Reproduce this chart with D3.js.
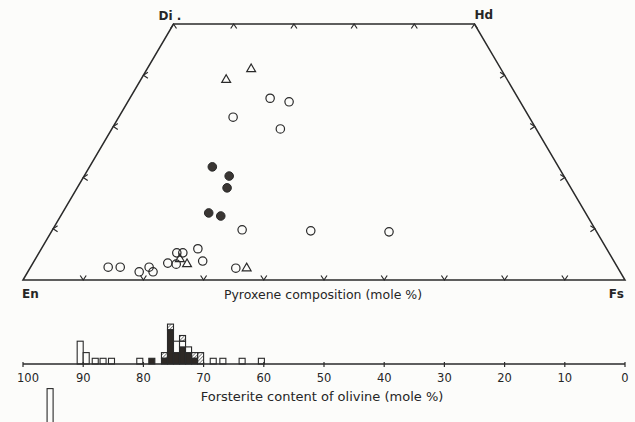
<!DOCTYPE html>
<html>
<head>
<meta charset="utf-8">
<script src="https://cdn.jsdelivr.net/npm/d3@7"></script>
<style>
    body { margin: 0; background: #fcfcfa; }
    svg { display: block; }
    text { font-family: "DejaVu Sans", sans-serif; fill: #262626; }
</style>
</head>
<body>
<svg id="chart"></svg>
<script>
// pyroxene points: [Wo, Fs] mole %
const openCircles = [
    [31.8, 19.0], [35.5, 23.3], [34.8, 26.8], [29.5, 28.0],
    [9.8, 31.5], [9.6, 43.0], [9.4, 56.1],
    [2.5, 12.9], [2.5, 14.9], [1.6, 18.5], [2.5, 19.7], [1.6, 20.8],
    [3.3, 22.4], [3.1, 23.9], [5.3, 22.9], [5.3, 23.9], [6.1, 26.0],
    [3.7, 28.0], [2.3, 34.2]
];
const filledCircles = [
    [22.1, 20.4], [20.3, 24.1], [18.0, 24.9], [13.1, 24.3], [12.5, 26.6]
];
const openTriangles = [
    [39.1, 14.2], [41.2, 17.3], [4.1, 24.0], [3.1, 25.7], [2.3, 36.0]
];

// olivine histogram (Fo of bar centre, counts per kind)
const foBins       = [90.5, 89.5, 88.0, 86.7, 85.3, 80.6, 78.6, 76.5, 75.5, 74.5, 73.5, 72.5, 71.5, 70.5, 68.4, 66.8, 63.6, 60.4];
const filledCounts = [0, 0, 0, 0, 0, 0, 1, 1, 6, 2, 3, 2, 1, 0, 0, 0, 0, 0];
const openCounts   = [4, 2, 1, 1, 1, 1, 0, 0, 0, 2, 1, 1, 0, 0, 1, 1, 1, 1];
const hatchCounts  = [0, 0, 0, 0, 0, 0, 0, 1, 1, 0, 1, 0, 1, 2, 0, 0, 0, 0];
// bar of the next panel, cut by the page edge
const nextPanelFo = [95.5];
const nextPanelCounts = [12];

const foTicks = [100, 90, 80, 70, 60, 50, 40, 30, 20, 10, 0];
const quadTicks = [10, 20, 30, 40];

const width = 635;
const height = 422;
const ink = '#2a2a2a';

var svg = d3.select('#chart').attr('width', width).attr('height', height);

var defs = svg.append('defs');
defs.append('pattern')
    .attr('id', 'hatch')
    .attr('patternUnits', 'userSpaceOnUse')
    .attr('width', 2.5).attr('height', 2.5)
    .attr('patternTransform', 'rotate(45)')
    .append('line')
    .attr('x1', 0).attr('y1', 0).attr('x2', 0).attr('y2', 2.5)
    .attr('stroke', ink).attr('stroke-width', 1);

// quadrilateral: x position from Fs + Wo/2, y from Wo
const qx = d3.scaleLinear().domain([0, 100]).range([23, 625]);
const qy = d3.scaleLinear().domain([0, 50]).range([280, 24]);
function px(wo, fs) { return qx(fs + wo / 2); }

var corners = [[0, 0], [50, 0], [50, 50], [0, 100]];
svg.append('path')
    .attr('d', d3.line()(corners.map(c => [px(c[0], c[1]), qy(c[0])])) + 'Z')
    .attr('fill', 'none')
    .attr('stroke', ink)
    .attr('stroke-width', 1.5);

// little chevrons along the edges, tip on the edge, arms inward
var chev = [];
[10, 20, 30, 40, 50, 60, 70, 80, 90].forEach(f => chev.push({ wo: 0, fs: f, nx: 0, ny: -1 }));
[0, 10, 20, 30, 40, 50].forEach(f => chev.push({ wo: 50, fs: f, nx: 0, ny: 1 }));
quadTicks.forEach(w => chev.push({ wo: w, fs: 0, nx: 1, ny: 0 }));
quadTicks.forEach(w => chev.push({ wo: w, fs: 100 - w, nx: -1, ny: 0 }));

svg.append('g').selectAll('path')
    .data(chev)
    .enter()
    .append('path')
    .attr('d', function (d) {
        var x = px(d.wo, d.fs), y = qy(d.wo);
        var tx = d.ny, ty = d.nx;
        var a = [x + d.nx * 4.5 + tx * 3, y + d.ny * 4.5 + ty * 3];
        var b = [x + d.nx * 4.5 - tx * 3, y + d.ny * 4.5 - ty * 3];
        return 'M' + a + 'L' + [x, y] + 'L' + b;
    })
    .attr('fill', 'none')
    .attr('stroke', ink)
    .attr('stroke-width', 1.2);

svg.append('g').selectAll('circle.open')
    .data(openCircles)
    .enter()
    .append('circle')
    .attr('cx', d => px(d[0], d[1]))
    .attr('cy', d => qy(d[0]))
    .attr('r', 4.2)
    .attr('fill', 'none')
    .attr('stroke', ink)
    .attr('stroke-width', 1.2);

svg.append('g').selectAll('circle.filled')
    .data(filledCircles)
    .enter()
    .append('circle')
    .attr('cx', d => px(d[0], d[1]))
    .attr('cy', d => qy(d[0]))
    .attr('r', 4.3)
    .attr('fill', '#3a3633')
    .attr('stroke', ink)
    .attr('stroke-width', 1);

svg.append('g').selectAll('path')
    .data(openTriangles)
    .enter()
    .append('path')
    .attr('d', d3.symbol().type(d3.symbolTriangle).size(34))
    .attr('transform', d => 'translate(' + px(d[0], d[1]) + ',' + qy(d[0]) + ')')
    .attr('fill', 'none')
    .attr('stroke', ink)
    .attr('stroke-width', 1.2);

// corner and axis labels
var labels = [
    { t: 'Di .', x: px(50, 0) - 15, y: 20, a: 'start' },
    { t: 'Hd', x: px(50, 50), y: 19, a: 'start' },
    { t: 'En', x: px(0, 0) - 1, y: 298, a: 'start' },
    { t: 'Fs', x: px(0, 100) - 1, y: 298, a: 'end' }
];
svg.append('g').selectAll('text')
    .data(labels)
    .enter()
    .append('text')
    .attr('x', d => d.x)
    .attr('y', d => d.y)
    .attr('text-anchor', d => d.a)
    .attr('font-size', 12)
    .attr('font-weight', 'bold')
    .text(d => d.t);

svg.append('text')
    .attr('x', 323).attr('y', 299)
    .attr('text-anchor', 'middle')
    .attr('font-size', 12.5)
    .text('Pyroxene composition (mole %)');

// olivine histogram
const ox = d3.scaleLinear().domain([100, 0]).range([23, 625]);
const baseY = 364;
const oy = d3.scaleLinear().domain([0, 10]).range([baseY, baseY - 57]);

var segs = [];
foBins.forEach(function (fo, i) {
    var y0 = 0;
    [['filled', filledCounts[i]], ['open', openCounts[i]], ['hatch', hatchCounts[i]]].forEach(function (k) {
        if (k[1] > 0) {
            segs.push({ fo: fo, y0: y0, y1: y0 + k[1], kind: k[0] });
            y0 += k[1];
        }
    });
});

svg.append('g').selectAll('rect')
    .data(segs)
    .enter()
    .append('rect')
    .attr('x', d => ox(d.fo + 0.5))
    .attr('width', d => ox(d.fo - 0.5) - ox(d.fo + 0.5))
    .attr('y', d => oy(d.y1))
    .attr('height', d => oy(d.y0) - oy(d.y1))
    .attr('fill', d => d.kind == 'filled' ? '#2e2925' : d.kind == 'hatch' ? 'url(#hatch)' : '#fcfcfa')
    .attr('stroke', ink)
    .attr('stroke-width', 1.1);

var axis = svg.append('g').attr('transform', 'translate(0,' + baseY + ')');
axis.append('line')
    .attr('x1', ox(100)).attr('x2', ox(0))
    .attr('stroke', ink).attr('stroke-width', 1.5);
axis.selectAll('line.tick')
    .data(foTicks)
    .enter()
    .append('line')
    .attr('x1', d => ox(d)).attr('x2', d => ox(d))
    .attr('y1', -2).attr('y2', 3)
    .attr('stroke', ink).attr('stroke-width', 1.2);
axis.selectAll('text')
    .data(foTicks)
    .enter()
    .append('text')
    .attr('x', d => ox(d) + (d == 100 ? 5 : 0))
    .attr('y', 18)
    .attr('text-anchor', 'middle')
    .attr('font-size', 11.5)
    .text(d => d);

svg.append('text')
    .attr('x', 322).attr('y', 401)
    .attr('text-anchor', 'middle')
    .attr('font-size', 13)
    .text('Forsterite content of olivine (mole %)');

// next panel bar, its base lies below the page
const nextBase = 457;
svg.append('g').selectAll('rect')
    .data(nextPanelFo)
    .enter()
    .append('rect')
    .attr('x', d => ox(d + 0.5))
    .attr('width', d => ox(d - 0.5) - ox(d + 0.5))
    .attr('y', (d, i) => nextBase - (oy(0) - oy(nextPanelCounts[i])))
    .attr('height', (d, i) => oy(0) - oy(nextPanelCounts[i]))
    .attr('fill', 'none')
    .attr('stroke', ink)
    .attr('stroke-width', 1.1);
</script>
</body>
</html>
